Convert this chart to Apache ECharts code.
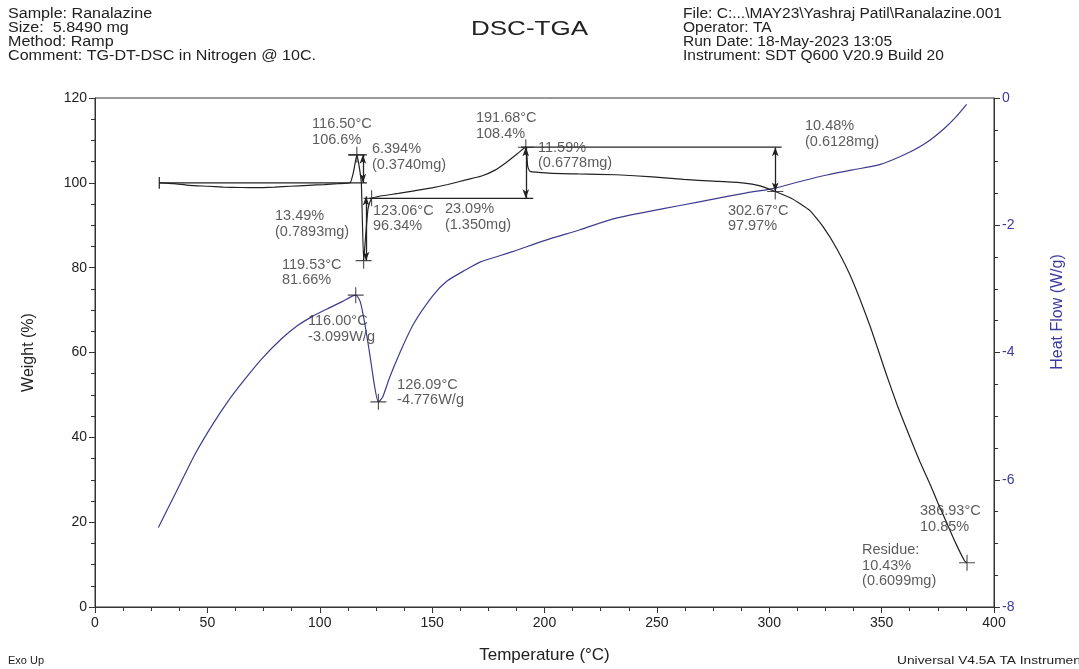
<!DOCTYPE html>
<html>
<head>
<meta charset="utf-8">
<script src="https://cdn.jsdelivr.net/npm/echarts@6/dist/echarts.min.js"></script>
<style>
html,body{margin:0;padding:0;background:#fff;}
#chart{width:1079px;height:669px;}
</style>
</head>
<body>
<div id="chart"></div>
<script>
// ---- Data ----
const weightCurve = [
  [28.6,100.0],[35,99.8],[42,99.4],[50,99.2],[57,99.0],[65,98.9],[72,98.85],[80,99.0],[87,99.2],
  [95,99.4],[102,99.6],[108,99.8],[113.5,100.0],[115,102.5],[116.5,106.6],[117.5,104],[118.5,100],
  [119.53,81.66],[120.5,88],[121.5,94],[123.06,96.34],[127,96.9],[135,97.5],[142,98.1],[150,98.8],
  [157,99.6],[165,100.7],[172,101.6],[178,103.0],[183,104.8],[188,106.9],[191.68,108.4],[192.5,104],
  [193.5,102.7],[202,102.3],[215,102.1],[232,101.9],[248,101.4],[262,100.8],[275,100.4],[288,100.0],
  [296,99.3],[302.67,97.97],[310,96.3],[318,93.5],[324,89.6],[330,84.5],[337,77.0],[345,66.0],
  [352,55.0],[357,47.5],[362.6,40.0],[367,34.3],[371.5,29.0],[375,24.6],[379,19.8],[383,15.0],
  [386.93,10.85],[388,10.43]
];
const heatCurve = [
  [28.2,-6.75],[36,-6.2],[44.5,-5.6],[52,-5.15],[59.3,-4.76],[66.7,-4.42],[74.2,-4.1],[83.1,-3.78],
  [90,-3.58],[96.4,-3.44],[103,-3.32],[110,-3.2],[116,-3.099],[118,-3.2],[120.1,-3.56],[122.4,-4.06],
  [124.5,-4.55],[126.09,-4.776],[128,-4.7],[131,-4.4],[135.7,-4.0],[141.6,-3.56],[150.5,-3.1],
  [156.5,-2.88],[165,-2.7],[171.3,-2.58],[180,-2.48],[186.1,-2.41],[201,-2.23],[215.8,-2.07],
  [230.6,-1.90],[245.5,-1.79],[260.3,-1.69],[275.1,-1.59],[290,-1.49],[302,-1.42],[315,-1.3],
  [325.6,-1.21],[337,-1.13],[347.8,-1.06],[355,-0.97],[362.6,-0.85],[370,-0.7],[377.5,-0.49],
  [383,-0.3],[387.8,-0.1]
];
const xTicks = {min:0, max:400, step:50};
const weightTicks = {min:0, max:120, step:20};
const heatTicks = {min:-8, max:0, step:2};

// annotation geometry (data units)
const stepLines = [
  [[28.6,100],[121,100]],
  [[28.6,98.6],[28.6,101.4]],
  [[112.6,106.6],[121,106.6]],
  [[122,96.34],[195,96.34]],
  [[189.5,108.4],[305.5,108.4]]
];
const stepArrows = [
  [119.2,100,106.6],
  [120.6,96.8,81.66],
  [191.68,96.34,108.4],
  [302.67,97.97,108.4]
];
const weightMarks = [[116.5,106.6],[119.53,81.66],[123.06,96.34],[191.68,108.4],[302.67,97.97],[388,10.43]];
const heatMarks = [[116,-3.099],[126.09,-4.776]];
const annotTexts = [
  [96.6,115.6,'116.50°C\n106.6%'],
  [123.2,109.7,'6.394%\n(0.3740mg)'],
  [80.1,94.0,'13.49%\n(0.7893mg)'],
  [123.7,95.2,'123.06°C\n96.34%'],
  [83.2,82.5,'119.53°C\n81.66%'],
  [155.7,95.6,'23.09%\n(1.350mg)'],
  [169.5,117.0,'191.68°C\n108.4%'],
  [197.1,110.1,'11.59%\n(0.6778mg)'],
  [281.6,95.2,'302.67°C\n97.97%'],
  [315.9,115.2,'10.48%\n(0.6128mg)'],
  [367.1,24.4,'386.93°C\n10.85%'],
  [341.3,15.2,'Residue:\n10.43%\n(0.6099mg)'],
  [94.8,69.2,'116.00°C\n-3.099W/g'],
  [134.4,54.2,'126.09°C\n-4.776W/g']
];
const headerLeft = ['Sample: Ranalazine','Size:  5.8490 mg','Method: Ramp','Comment: TG-DT-DSC in Nitrogen @ 10C.'];
const headerRight = ['File: C:...\\MAY23\\Yashraj Patil\\Ranalazine.001','Operator: TA','Run Date: 18-May-2023 13:05','Instrument: SDT Q600 V20.9 Build 20'];
const chartTitle = 'DSC-TGA';

// ---- Chart ----
const FONT = '"Liberation Sans", Arial, sans-serif';
const INK = '#222';
const BLUE = '#3d3d8f';
const BLUE_TXT = '#3a3aa0';
const plusPath = 'path://M0,9.3H20V10.7H0Z M9.3,0H10.7V20H9.3Z';

const chart = echarts.init(document.getElementById('chart'), null, {renderer:'canvas'});

const series = [];
series.push({
  type:'line', name:'Weight', data:weightCurve, yAxisIndex:0, showSymbol:false, symbol:'none',
  smooth:0.15,
  lineStyle:{color:INK, width:1.2}, z:5,
  markLine:{
    silent:true, symbol:['arrow','arrow'], symbolSize:[5,9],
    lineStyle:{color:INK, width:1.3, type:'solid'}, label:{show:false},
    data: stepArrows.map(a => [{coord:[a[0],a[1]]},{coord:[a[0],a[2]]}])
  }
});
series.push({
  type:'line', name:'Heat Flow', data:heatCurve, yAxisIndex:1, showSymbol:false, symbol:'none',
  smooth:0.25,
  lineStyle:{color:BLUE, width:1.2}, z:4
});
stepLines.forEach(seg => series.push({
  type:'line', data:seg, yAxisIndex:0, showSymbol:false, symbol:'none', silent:true,
  lineStyle:{color:INK, width:1.2}, z:3
}));
series.push({
  type:'scatter', data:weightMarks, yAxisIndex:0, symbol:plusPath, symbolSize:16,
  itemStyle:{color:INK}, silent:true, z:6
});
series.push({
  type:'scatter', data:heatMarks, yAxisIndex:1, symbol:plusPath, symbolSize:16,
  itemStyle:{color:INK}, silent:true, z:6
});
series.push({
  type:'scatter', yAxisIndex:0, symbolSize:0, silent:true, z:7,
  itemStyle:{color:'rgba(0,0,0,0)'},
  data: annotTexts.map(t => ({value:[t[0],t[1]], name:t[2]})),
  label:{show:true, formatter:'{b}', position:[0,0], align:'left', verticalAlign:'top',
    fontFamily:FONT, fontSize:14.5, lineHeight:15.5, color:'#333'}
});

const graphics = [];
headerLeft.forEach((t,i) => graphics.push({type:'text', left:8, top:7+i*14,
  style:{text:t, font:'14px '+FONT, fill:'#222'}, scaleX:1.15}));
headerRight.forEach((t,i) => graphics.push({type:'text', left:683, top:7+i*14,
  style:{text:t, font:'14px '+FONT, fill:'#222'}, scaleX:1.11}));
graphics.push({type:'text', left:471, top:19, style:{text:chartTitle, font:'20px '+FONT, fill:'#222'}, scaleX:1.3});
graphics.push({type:'text', left:8, top:655, style:{text:'Exo Up', font:'11px '+FONT, fill:'#222'}});
graphics.push({type:'text', left:897, top:655, style:{text:'Universal V4.5A TA Instruments', font:'11px '+FONT, fill:'#222'}, scaleX:1.25});
graphics.push({type:'text', x:1058, y:312, rotation:Math.PI/2,
  style:{text:'Heat Flow (W/g)', font:'16px '+FONT, fill:BLUE_TXT, align:'center', verticalAlign:'middle'}});

chart.setOption({
  animation:false,
  backgroundColor:'#fff',
  grid:{left:95, right:85, top:98, bottom:49, show:true, borderColor:'#333', borderWidth:1},
  xAxis:{
    type:'value', min:xTicks.min, max:xTicks.max, interval:xTicks.step,
    name:'Temperature (°C)', nameLocation:'middle', nameGap:40,
    nameTextStyle:{fontFamily:FONT, fontSize:17, color:'#222'},
    axisLine:{lineStyle:{color:'#333'}},
    axisTick:{show:true, length:6, lineStyle:{color:'#333'}},
    minorTick:{show:true, splitNumber:4, length:4, lineStyle:{color:'#333'}},
    splitLine:{show:false},
    axisLabel:{fontFamily:FONT, fontSize:14, color:'#222', margin:9}
  },
  yAxis:[
    {
      type:'value', min:weightTicks.min, max:weightTicks.max, interval:weightTicks.step, position:'left',
      name:'Weight (%)', nameLocation:'middle', nameGap:58,
      nameTextStyle:{fontFamily:FONT, fontSize:16, color:'#222'},
      axisLine:{show:true, lineStyle:{color:'#333'}},
      axisTick:{show:true, length:6, lineStyle:{color:'#333'}},
      minorTick:{show:true, splitNumber:4, length:4, lineStyle:{color:'#333'}},
      splitLine:{show:false},
      axisLabel:{fontFamily:FONT, fontSize:14, color:'#222', margin:8}
    },
    {
      type:'value', min:heatTicks.min, max:heatTicks.max, interval:heatTicks.step, position:'right',
      axisLine:{show:true, lineStyle:{color:'#333'}},
      axisTick:{show:true, length:6, lineStyle:{color:'#333'}},
      minorTick:{show:true, splitNumber:4, length:4, lineStyle:{color:'#333'}},
      splitLine:{show:false},
      axisLabel:{fontFamily:FONT, fontSize:14, color:BLUE_TXT, margin:8}
    }
  ],
  graphic:graphics,
  series:series
});
</script>
</body>
</html>
